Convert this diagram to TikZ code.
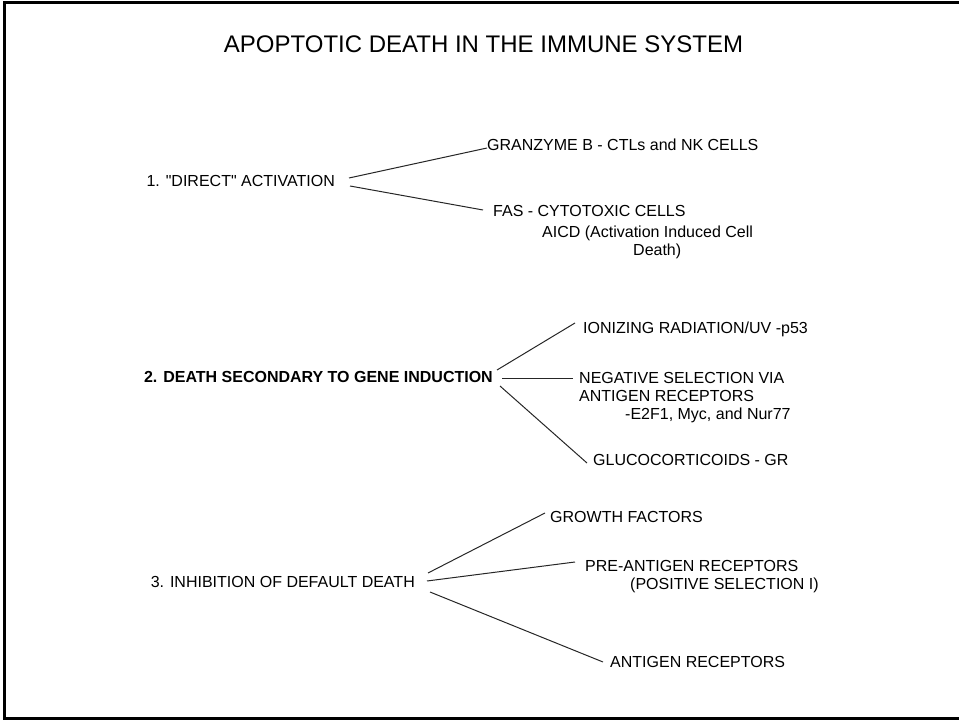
\documentclass[tikz,border=0pt]{standalone}
\usepackage{fontspec}
\setmainfont{Liberation Sans}
% same face without TeX ligatures, so " stays a straight quote
\newfontfamily\plainface{Liberation Sans}
\usetikzlibrary{calc}
\newcommand{\sq}{{\plainface"}}
\begin{document}
\begin{tikzpicture}[x=1pt,y=-1pt,
  lbl/.style={inner sep=0pt, font=\fontsize{16}{19}\selectfont},
  head/.style={lbl, anchor=base east},
  leaf/.style={lbl, anchor=base west},
  link/.style={line width=1pt, draw=black!85}]
\useasboundingbox (0,0) rectangle (959,722);
% page frame (its right side runs off the page)
\begin{scope}
  \clip (0,0) rectangle (959,722);
  \draw[line width=3pt] (4,2.8) rectangle (975,718.5);
\end{scope}

% title
\node[lbl, font=\fontsize{24}{28}\selectfont, anchor=base] (title) at (483.5,53)
  {APOPTOTIC DEATH IN THE IMMUNE SYSTEM};

% 1. direct activation
\node[head] (d1) at (335,187) {1. \sq DIRECT\sq{} ACTIVATION};
\node[leaf] (gran) at (487,151) {GRANZYME B - CTLs and NK CELLS};
\node[leaf] (fas) at (493,217) {FAS - CYTOTOXIC CELLS};
\node[leaf] (aicd) at (542,238) {AICD (Activation Induced Cell};
\node[leaf] (aicdb) at (633,256) {Death)};
\draw[link] ($(d1.base east)+(14,-9)$) -- ($(gran.base west)+(0,-3)$);
\draw[link] ($(d1.base east)+(15,-1)$) -- ($(fas.base west)+(-10,-7)$);

% 2. death secondary to gene induction
\node[head, font=\fontsize{16}{19}\selectfont\bfseries] (d2) at (493,382)
  {2. DEATH SECONDARY TO GENE INDUCTION};
\node[leaf] (ion) at (583,333) {IONIZING RADIATION/UV -p53};
\node[leaf] (neg) at (579,383) {NEGATIVE SELECTION VIA};
\node[leaf] (negb) at (579,401) {ANTIGEN RECEPTORS};
\node[leaf] (negc) at (625,419) {-E2F1, Myc, and Nur77};
\node[leaf] (glu) at (593,465) {GLUCOCORTICOIDS - GR};
\draw[link] ($(d2.base east)+(4,-12)$) -- ($(ion.base west)+(-8,-10)$);
\draw[link] ($(d2.base east)+(9,-4)$) -- ($(neg.base west)+(-6,-5)$);
\draw[link] ($(d2.base east)+(7,4)$) -- ($(glu.base west)+(-6,-2)$);

% 3. inhibition of default death
\node[head] (d3) at (415,587) {3. INHIBITION OF DEFAULT DEATH};
\node[leaf] (gf) at (550,522) {GROWTH FACTORS};
\node[leaf] (pre) at (585,571) {PRE-ANTIGEN RECEPTORS};
\node[leaf] (preb) at (630,589) {(POSITIVE SELECTION I)};
\node[leaf] (ar) at (610,667) {ANTIGEN RECEPTORS};
\draw[link] ($(d3.base east)+(13,-14)$) -- ($(gf.base west)+(-5,-9)$);
\draw[link] ($(d3.base east)+(12,-6)$) -- ($(pre.base west)+(-10,-9)$);
\draw[link] ($(d3.base east)+(15,5)$) -- ($(ar.base west)+(-7,-5)$);
\end{tikzpicture}
\end{document}
